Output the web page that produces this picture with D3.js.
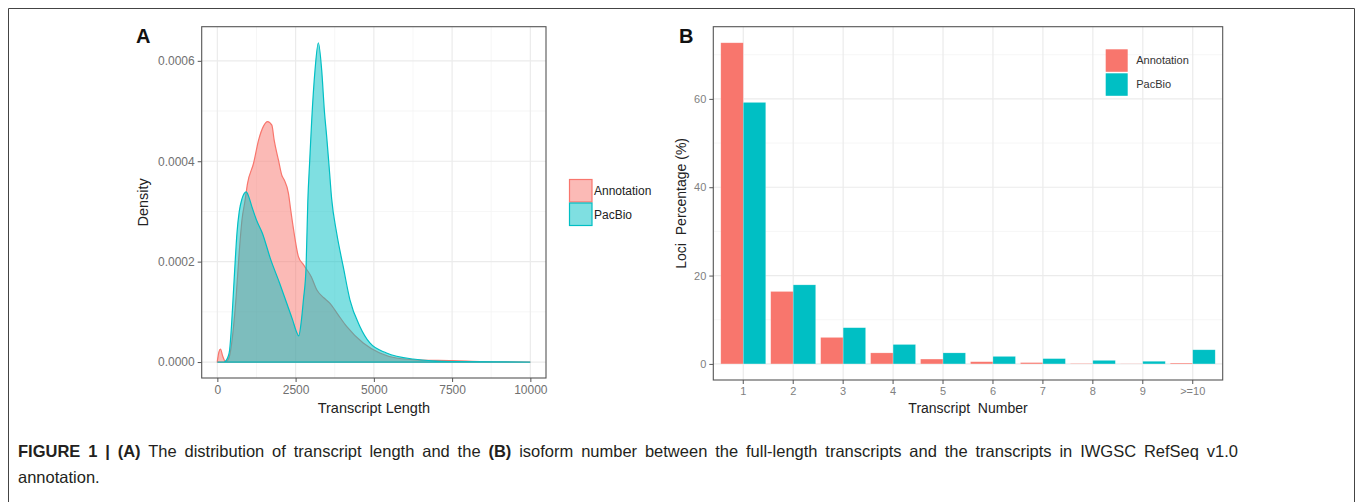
<!DOCTYPE html>
<html>
<head>
<meta charset="utf-8">
<script src="https://cdn.jsdelivr.net/npm/d3@7"></script>
<style>
  body { margin: 0; background: #fff; }
  svg { display: block; font-family: "Liberation Sans", Arial, Helvetica, sans-serif; }
</style>
</head>
<body>
<div id="figure"></div>
<script>
// ---- panel A: density of transcript length
const lengthX      = [0, 50, 100, 170, 250, 300, 400, 500, 600, 700, 786, 880, 965, 1157, 1317, 1475, 1602, 1741, 1815, 1953, 2059, 2134, 2271, 2350, 2452, 2590, 2750, 2825, 3000, 3175, 3400, 3600, 3850, 4130, 4660, 5190, 5720, 6500, 7500, 8500, 10000];
const annotDensity = [0.000002, 0.00002, 0.000026, 0.000012, 0.000002, 0.000002, 0.000015, 0.00006, 0.00013, 0.00022, 0.000283, 0.00032, 0.000356, 0.000396, 0.000442, 0.00047, 0.000479, 0.000472, 0.000442, 0.000402, 0.000372, 0.000363, 0.000336, 0.0003, 0.000257, 0.00021, 0.000194, 0.000187, 0.00017, 0.000144, 0.000128, 0.000117, 0.000095, 0.000071, 0.000038, 0.000018, 0.000008, 0.000004, 0.000003, 0.000001, 0];

const pacbioX       = [0, 200, 280, 350, 392, 450, 500, 560, 627, 700, 786, 860, 923, 1000, 1100, 1250, 1436, 1700, 1990, 2200, 2404, 2530, 2600, 2680, 2750, 2835, 2890, 2950, 3015, 3121, 3227, 3333, 3420, 3493, 3570, 3652, 3812, 4022, 4236, 4554, 4873, 5404, 6252, 7500, 10000];
const pacbioDensity = [0, 0, 0.000003, 0.000012, 0.000024, 0.00007, 0.000124, 0.00019, 0.000257, 0.0003, 0.000325, 0.000336, 0.000339, 0.00033, 0.00031, 0.000283, 0.000257, 0.000205, 0.000157, 0.00012, 0.000084, 0.00006, 0.000052, 0.00008, 0.000124, 0.00019, 0.00032, 0.0004, 0.000482, 0.000582, 0.000636, 0.000582, 0.0005, 0.000449, 0.00039, 0.000325, 0.000257, 0.00019, 0.000124, 0.000071, 0.000038, 0.000018, 0.000006, 0.000001, 0];

const lengthTicks  = [0, 2500, 5000, 7500, 10000];
const densityTicks = [0, 0.0002, 0.0004, 0.0006];

// ---- panel B: isoform number per locus
const transcriptNumbers = ["1", "2", "3", "4", "5", "6", "7", "8", "9", ">=10"];
const annotPercent  = [72.7, 16.4, 6.0, 2.5, 1.1, 0.5, 0.3, 0.1, 0.05, 0.2];
const pacbioPercent = [59.2, 17.9, 8.2, 4.4, 2.5, 1.7, 1.2, 0.8, 0.6, 3.2];
const percentTicks  = [0, 20, 40, 60];

const seriesNames  = ["Annotation", "PacBio"];
const seriesColors = ["#F8766D", "#00BFC4"];

const W = 1358, H = 502;
const svg = d3.select("#figure").append("svg")
    .attr("width", W)
    .attr("height", H);

svg.append("rect").attr("width", W).attr("height", H).attr("fill", "#fff");

// outer frame of the figure
svg.append("path")
    .attr("d", `M8.5,${H + 5}V8.5H1354.5V${H + 5}`)
    .attr("fill", "none")
    .attr("stroke", "#444")
    .attr("stroke-width", 1);

// =================== panel A ===================
const A = { left: 201.7, right: 546, top: 26.7, bottom: 378 };

const xA = d3.scaleLinear().domain([-500, 10500]).range([A.left, A.right]);
const yA = d3.scaleLinear().domain([-0.0000318, 0.000668]).range([A.bottom, A.top]);

const gA = svg.append("g");

// grid
const minorX = [1250, 3750, 6250, 8750];
const minorY = [0.0001, 0.0003, 0.0005];
gA.selectAll(".minx").data(minorX).enter().append("line")
    .attr("x1", d => xA(d)).attr("x2", d => xA(d))
    .attr("y1", A.top).attr("y2", A.bottom)
    .attr("stroke", "#f4f4f4").attr("stroke-width", 0.8);
gA.selectAll(".miny").data(minorY).enter().append("line")
    .attr("x1", A.left).attr("x2", A.right)
    .attr("y1", d => yA(d)).attr("y2", d => yA(d))
    .attr("stroke", "#f4f4f4").attr("stroke-width", 0.8);
gA.selectAll(".majx").data(lengthTicks).enter().append("line")
    .attr("x1", d => xA(d)).attr("x2", d => xA(d))
    .attr("y1", A.top).attr("y2", A.bottom)
    .attr("stroke", "#ebebeb").attr("stroke-width", 1.2);
gA.selectAll(".majy").data(densityTicks).enter().append("line")
    .attr("x1", A.left).attr("x2", A.right)
    .attr("y1", d => yA(d)).attr("y2", d => yA(d))
    .attr("stroke", "#ebebeb").attr("stroke-width", 1.2);

// density areas
const densArea = d3.area()
    .x(d => xA(d[0]))
    .y0(yA(0))
    .y1(d => yA(d[1]))
    .curve(d3.curveMonotoneX);

const densities = [
    d3.zip(lengthX, annotDensity),
    d3.zip(pacbioX, pacbioDensity)
];

densities.forEach((pts, i) => {
    gA.append("path")
        .datum(pts)
        .attr("d", densArea)
        .attr("fill", seriesColors[i])
        .attr("fill-opacity", 0.5)
        .attr("stroke", seriesColors[i])
        .attr("stroke-width", 1.2);
});

// border
gA.append("rect")
    .attr("x", A.left).attr("y", A.top)
    .attr("width", A.right - A.left).attr("height", A.bottom - A.top)
    .attr("fill", "none").attr("stroke", "#555").attr("stroke-width", 1.1);

// axes
const axA_x = gA.append("g")
    .attr("transform", `translate(0,${A.bottom})`)
    .call(d3.axisBottom(xA).tickValues(lengthTicks).tickSize(4).tickPadding(3).tickFormat(d3.format("d")));
const axA_y = gA.append("g")
    .attr("transform", `translate(${A.left},0)`)
    .call(d3.axisLeft(yA).tickValues(densityTicks).tickSize(4).tickPadding(3).tickFormat(d3.format(".4f")));
[axA_x, axA_y].forEach(ax => {
    ax.select(".domain").remove();
    ax.selectAll("line").attr("stroke", "#555");
    ax.selectAll("text").attr("fill", "#707070").style("font-size", "12px")
        .style("font-family", "'Liberation Sans', Arial, sans-serif");
});

gA.append("text")
    .attr("x", (A.left + A.right) / 2)
    .attr("y", 413)
    .attr("text-anchor", "middle")
    .attr("fill", "#222")
    .style("font-size", "14.5px")
    .text("Transcript Length");

gA.append("text")
    .attr("transform", `translate(148,${(A.top + A.bottom) / 2}) rotate(-90)`)
    .attr("text-anchor", "middle")
    .attr("fill", "#222")
    .style("font-size", "14.5px")
    .text("Density");

gA.append("text")
    .attr("x", 136).attr("y", 43)
    .attr("font-weight", "bold")
    .attr("fill", "#111")
    .style("font-size", "20px")
    .text("A");

// legend A
const legA = gA.append("g").attr("transform", "translate(569,179)");
seriesNames.forEach((name, i) => {
    legA.append("rect")
        .attr("x", 0.5).attr("y", i * 23.5 + 0.5)
        .attr("width", 22.5).attr("height", 22.5)
        .attr("fill", seriesColors[i]).attr("fill-opacity", 0.5)
        .attr("stroke", seriesColors[i]).attr("stroke-width", 1.2);
    legA.append("text")
        .attr("x", 25).attr("y", i * 23.5 + 12)
        .attr("dy", "0.35em")
        .attr("fill", "#222")
        .style("font-size", "12px")
        .text(name);
});

// =================== panel B ===================
const B = { left: 713.3, right: 1222.7, top: 26.7, bottom: 380 };

const xB = d3.scaleBand()
    .domain(transcriptNumbers)
    .range([B.left, B.right])
    .paddingInner(0.1)
    .paddingOuter(0.15);
const xSub = d3.scaleBand().domain(seriesNames).range([0, xB.bandwidth()]);
const yB = d3.scaleLinear().domain([-3.64, 76.34]).range([B.bottom, B.top]);

const gB = svg.append("g");

const minorPct = [10, 30, 50, 70];
gB.selectAll(".miny").data(minorPct).enter().append("line")
    .attr("x1", B.left).attr("x2", B.right)
    .attr("y1", d => yB(d)).attr("y2", d => yB(d))
    .attr("stroke", "#f4f4f4").attr("stroke-width", 0.8);
gB.selectAll(".majy").data(percentTicks).enter().append("line")
    .attr("x1", B.left).attr("x2", B.right)
    .attr("y1", d => yB(d)).attr("y2", d => yB(d))
    .attr("stroke", "#ebebeb").attr("stroke-width", 1.2);
gB.selectAll(".majx").data(transcriptNumbers).enter().append("line")
    .attr("x1", d => xB(d) + xB.bandwidth() / 2).attr("x2", d => xB(d) + xB.bandwidth() / 2)
    .attr("y1", B.top).attr("y2", B.bottom)
    .attr("stroke", "#ebebeb").attr("stroke-width", 1.2);

const barRows = transcriptNumbers.map((t, i) => ({
    t: t,
    Annotation: annotPercent[i],
    PacBio: pacbioPercent[i]
}));

gB.selectAll(".grp")
    .data(barRows)
    .enter().append("g")
    .attr("transform", d => `translate(${xB(d.t)},0)`)
    .selectAll("rect")
    .data(d => seriesNames.map((s, i) => ({ s: s, v: d[s], c: seriesColors[i] })))
    .enter().append("rect")
    .attr("x", d => xSub(d.s))
    .attr("y", d => yB(d.v))
    .attr("width", xSub.bandwidth())
    .attr("height", d => yB(0) - yB(d.v))
    .attr("fill", d => d.c)
    .attr("stroke", "#fff")
    .attr("stroke-opacity", 0.35)
    .attr("stroke-width", 0.6);

gB.append("rect")
    .attr("x", B.left).attr("y", B.top)
    .attr("width", B.right - B.left).attr("height", B.bottom - B.top)
    .attr("fill", "none").attr("stroke", "#555").attr("stroke-width", 1.1);

const axB_x = gB.append("g")
    .attr("transform", `translate(0,${B.bottom})`)
    .call(d3.axisBottom(xB).tickSize(4).tickPadding(3));
const axB_y = gB.append("g")
    .attr("transform", `translate(${B.left},0)`)
    .call(d3.axisLeft(yB).tickValues(percentTicks).tickSize(4).tickPadding(3));
[axB_x, axB_y].forEach(ax => {
    ax.select(".domain").remove();
    ax.selectAll("line").attr("stroke", "#555");
    ax.selectAll("text").attr("fill", "#808080").style("font-size", "11px")
        .style("font-family", "'Liberation Sans', Arial, sans-serif");
});

gB.append("text")
    .attr("x", (B.left + B.right) / 2)
    .attr("y", 413)
    .attr("text-anchor", "middle")
    .attr("fill", "#222")
    .style("font-size", "14px")
    .style("white-space", "pre")
    .text("Transcript  Number");

gB.append("text")
    .attr("transform", `translate(686,${(B.top + B.bottom) / 2}) rotate(-90)`)
    .attr("text-anchor", "middle")
    .attr("fill", "#222")
    .style("font-size", "14px")
    .style("white-space", "pre")
    .text("Loci  Percentage (%)");

gB.append("text")
    .attr("x", 679).attr("y", 43)
    .attr("font-weight", "bold")
    .attr("fill", "#111")
    .style("font-size", "20px")
    .text("B");

// legend B
const legB = gB.append("g").attr("transform", "translate(1105.7,49.3)");
seriesNames.forEach((name, i) => {
    legB.append("rect")
        .attr("x", 0).attr("y", i * 24)
        .attr("width", 22).attr("height", 22.5)
        .attr("fill", seriesColors[i]);
    legB.append("text")
        .attr("x", 30.5).attr("y", i * 24 + 11.3)
        .attr("dy", "0.35em")
        .attr("fill", "#333")
        .style("font-size", "11px")
        .text(name);
});

// =================== caption ===================
// first line is justified to the full text width, like the journal layout
const capX = 18, capRight = 1238;
const cap = svg.append("text")
    .attr("x", capX).attr("y", 457)
    .attr("fill", "#231f20")
    .style("font-size", "16.5px");
cap.append("tspan").attr("font-weight", "bold").text("FIGURE 1 | (A)");
cap.append("tspan").text(" The distribution of transcript length and the ");
cap.append("tspan").attr("font-weight", "bold").text("(B)");
cap.append("tspan").text(" isoform number between the full-length transcripts and the transcripts in IWGSC RefSeq v1.0");

const capLen = cap.node().getComputedTextLength();
const nSpaces = (cap.text().match(/ /g) || []).length;
if (capLen < capRight - capX && nSpaces > 0) {
    cap.style("word-spacing", ((capRight - capX - capLen) / nSpaces) + "px");
}

svg.append("text")
    .attr("x", capX).attr("y", 483)
    .attr("fill", "#231f20")
    .style("font-size", "16.5px")
    .text("annotation.");
</script>
</body>
</html>
